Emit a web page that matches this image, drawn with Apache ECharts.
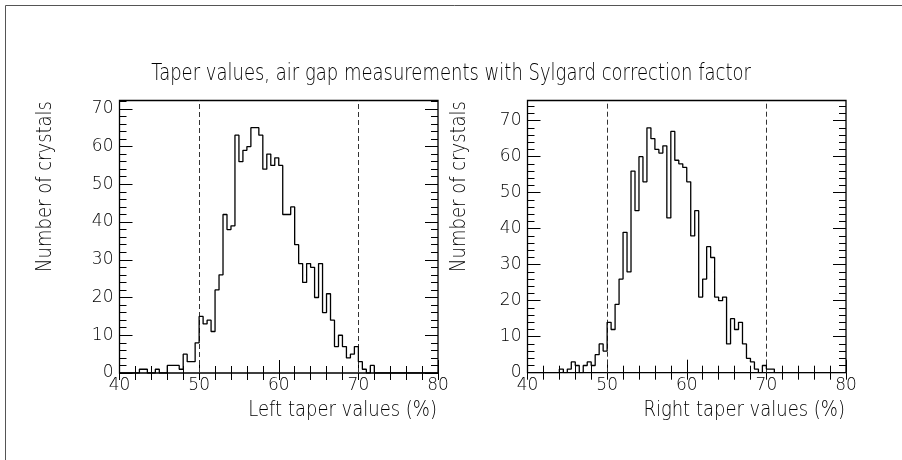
<!DOCTYPE html>
<html>
<head>
<meta charset="utf-8">
<script src="https://cdn.jsdelivr.net/npm/echarts@6/dist/echarts.min.js"></script>
<style>
  html, body { margin: 0; padding: 0; background: #fff; }
  #chart { width: 902px; height: 460px; }
</style>
</head>
<body>
<div id="chart"></div>
<script>
// Histogram binning: 80 bins of 0.5 % covering 40 % .. 80 %
const binStart = 40;
const binWidth = 0.5;

// Crystal counts per bin, left taper
const leftCounts = [
  0, 0, 0, 0, 0, 1, 1, 0, 0, 1, 0, 0, 2, 2, 2, 1, 5, 3, 3, 8,
  15, 13, 14, 11, 22, 26, 42, 38, 39, 63, 56, 59, 60, 65, 65, 63, 54, 58, 55, 57,
  55, 42, 42, 44, 34, 29, 24, 29, 28, 20, 29, 16, 21, 14, 7, 10, 7, 4, 5, 7,
  3, 1, 0, 2, 0, 0, 0, 0, 0, 0, 0, 0, 0, 0, 0, 0, 0, 0, 0, 0
];

// Crystal counts per bin, right taper
const rightCounts = [
  0, 0, 0, 0, 0, 0, 0, 0, 1, 0, 1, 3, 2, 0, 2, 3, 2, 5, 8, 6,
  14, 12, 19, 26, 39, 28, 56, 45, 60, 53, 68, 65, 62, 61, 63, 43, 67, 59, 58, 57,
  53, 38, 45, 21, 26, 35, 32, 21, 20, 21, 8, 15, 12, 14, 8, 4, 3, 1, 0, 2,
  1, 1, 0, 0, 0, 0, 0, 0, 0, 0, 0, 0, 0, 0, 0, 0, 0, 0, 0, 0
];

// Acceptance window drawn as dashed lines
const cutValues = [50, 70];

// Axis ranges
const xRange = [40, 80];
const xTickStep = 10;
const yTickStep = 10;
const yMaxLeft = 72.2;
const yMaxRight = 75.6;

const titleText = 'Taper values, air gap measurements with Sylgard correction factor';
const xNames = ['Left taper values (%)', 'Right taper values (%)'];
const yName = 'Number of crystals';

const FONT = 'DejaVu Sans';
const WEIGHT = 200;
const INK = '#000';

// Step outline: one point at each bin's lower edge plus the closing edge
function histPoints(counts) {
  const pts = counts.map((c, i) => [binStart + i * binWidth, c]);
  pts.push([binStart + counts.length * binWidth, counts[counts.length - 1]]);
  return pts;
}

const grids = [
  { left: 119.5, top: 100.5, width: 318.5, height: 272.5 },
  { left: 527.5, top: 100.5, width: 318.5, height: 272.2 }
];

const tickLine = { color: '#000', width: 1 };

const xAxes = [];
const yAxes = [];
[yMaxLeft, yMaxRight].forEach((ymax, g) => {
  // bottom axis with labels, long ticks every 10, short every 2
  xAxes.push({
    gridIndex: g, type: 'value', position: 'bottom',
    min: xRange[0], max: xRange[1], interval: xTickStep,
    axisLine: { show: false },
    axisTick: { inside: true, length: 13, lineStyle: tickLine },
    minorTick: { show: true, splitNumber: 5, length: 7, lineStyle: tickLine },
    axisLabel: { fontSize: 17, margin: 4, color: INK, fontFamily: FONT, fontWeight: WEIGHT },
    splitLine: { show: false }
  });
  // top axis: short ticks only
  xAxes.push({
    gridIndex: g, type: 'value', position: 'top',
    min: xRange[0], max: xRange[1], interval: xTickStep,
    axisLine: { show: false },
    axisTick: { inside: true, length: 7, lineStyle: tickLine },
    minorTick: { show: true, splitNumber: 5, length: 7, lineStyle: tickLine },
    axisLabel: { show: false },
    splitLine: { show: false }
  });
  yAxes.push({
    gridIndex: g, type: 'value', position: 'left',
    min: 0, max: ymax, interval: yTickStep,
    axisLine: { show: false },
    axisTick: { inside: true, length: 13, lineStyle: tickLine },
    minorTick: { show: true, splitNumber: 5, length: 7, lineStyle: tickLine },
    axisLabel: { fontSize: 17, margin: 6, color: INK, fontFamily: FONT, fontWeight: WEIGHT, showMaxLabel: false },
    splitLine: { show: false }
  });
  yAxes.push({
    gridIndex: g, type: 'value', position: 'right',
    min: 0, max: ymax, interval: yTickStep,
    axisLine: { show: false },
    axisTick: { inside: true, length: 13, lineStyle: tickLine },
    minorTick: { show: true, splitNumber: 5, length: 7, lineStyle: tickLine },
    axisLabel: { show: false },
    splitLine: { show: false }
  });
});

function histSeries(counts, g) {
  return {
    type: 'line', step: 'end',
    xAxisIndex: g * 2, yAxisIndex: g * 2,
    data: histPoints(counts),
    symbol: 'none', clip: true, z: 5,
    lineStyle: { color: '#000', width: 1.3 },
    markLine: {
      silent: true, symbol: 'none', animation: false,
      label: { show: false },
      lineStyle: { color: '#333', width: 1, type: [5, 3] },
      data: cutValues.map(v => ({ xAxis: v }))
    }
  };
}

const chart = echarts.init(document.getElementById('chart'), null, { renderer: 'canvas' });

const nameStyle = { fontSize: 18, fill: INK, fontFamily: FONT, fontWeight: WEIGHT };

chart.setOption({
  animation: false,
  backgroundColor: '#fff',
  grid: grids.map(r => Object.assign({ show: true, borderColor: '#000', borderWidth: 1.3, backgroundColor: 'transparent' }, r)),
  xAxis: xAxes,
  yAxis: yAxes,
  series: [histSeries(leftCounts, 0), histSeries(rightCounts, 1)],
  graphic: [
    { type: 'rect', silent: true, shape: { x: 5.5, y: 5.5, width: 1200, height: 800 },
      style: { fill: 'none', stroke: '#555', lineWidth: 1 } },
    // main title, drawn a little taller than wide
    { type: 'text', x: 451, y: 74, scaleY: 1.3,
      style: Object.assign({ text: titleText, align: 'center', verticalAlign: 'middle' }, nameStyle) },
    { type: 'text', x: 437, y: 411, scaleY: 1.15,
      style: Object.assign({ text: xNames[0], align: 'right', verticalAlign: 'middle' }, nameStyle) },
    { type: 'text', x: 845, y: 411, scaleY: 1.15,
      style: Object.assign({ text: xNames[1], align: 'right', verticalAlign: 'middle' }, nameStyle) },
    { type: 'text', x: 46, y: 101, rotation: Math.PI / 2, scaleY: 1.15,
      style: Object.assign({ text: yName, align: 'right', verticalAlign: 'middle' }, nameStyle) },
    { type: 'text', x: 460, y: 101, rotation: Math.PI / 2, scaleY: 1.15,
      style: Object.assign({ text: yName, align: 'right', verticalAlign: 'middle' }, nameStyle) }
  ]
});
</script>
</body>
</html>
